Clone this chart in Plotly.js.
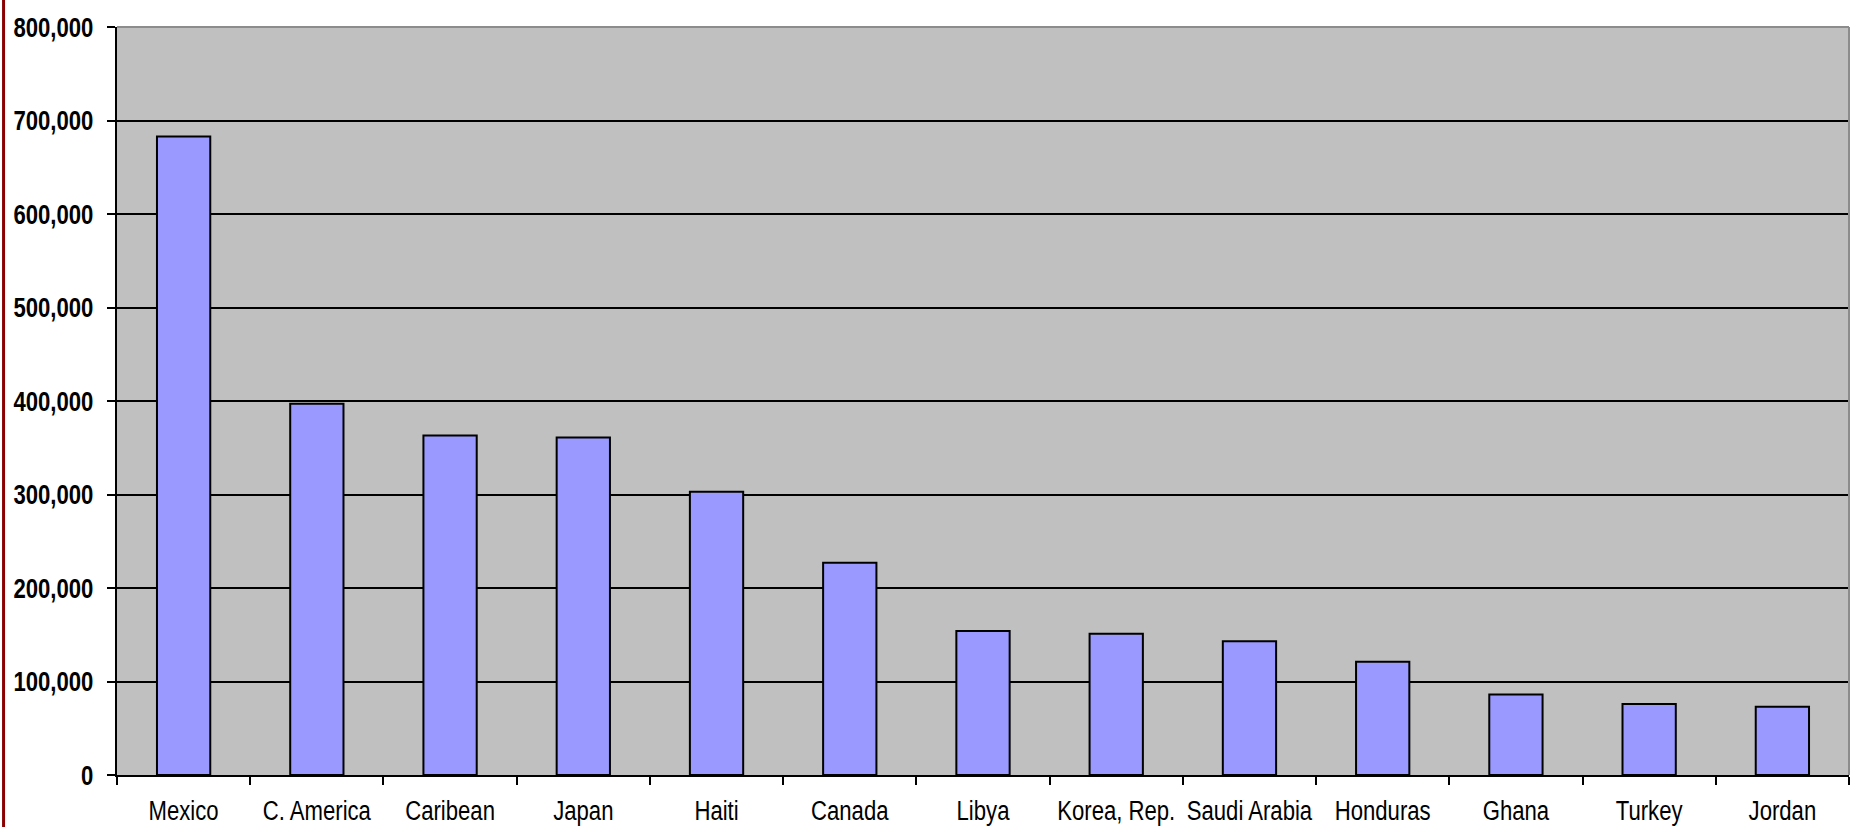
<!DOCTYPE html>
<html>
<head>
<meta charset="utf-8">
<script src="https://cdn.plot.ly/plotly-3.0.1.min.js"></script>
<style>
html,body{margin:0;padding:0;background:#fff;}
#chart{width:1862px;height:827px;}
</style>
</head>
<body>
<div id="chart"></div>
<script>
const categories = ["Mexico","C. America","Caribean","Japan","Haiti","Canada","Libya","Korea, Rep.","Saudi Arabia","Honduras","Ghana","Turkey","Jordan"];
const values = [683000, 397000, 363000, 361000, 303000, 227000, 154000, 151000, 143000, 121000, 86000, 76000, 73000];
const yTickVals = [0,100000,200000,300000,400000,500000,600000,700000,800000];
const yTickText = ["0","100,000","200,000","300,000","400,000","500,000","600,000","700,000","800,000"];

const FONT = '"Liberation Sans", Arial, sans-serif';

const trace = {
  type: 'bar',
  x: categories,
  y: values,
  marker: {color: '#9999ff', line: {color: '#000000', width: 2}},
  hoverinfo: 'x+y'
};

const layout = {
  width: 1862,
  height: 827,
  margin: {l: 117, r: 13, t: 27, b: 52},
  paper_bgcolor: '#ffffff',
  plot_bgcolor: '#c0c0c0',
  bargap: 0.6,
  showlegend: false,
  font: {family: FONT, color: '#000000', size: 28},
  xaxis: {
    type: 'category',
    showgrid: false,
    showline: true,
    linecolor: '#000000',
    linewidth: 2,
    ticks: 'outside',
    tickson: 'boundaries',
    ticklen: 8,
    tickwidth: 2,
    tickcolor: '#000000',
    tickangle: 0,
    tickfont: {family: FONT, size: 28, color: '#000000'},
    ticklabelstandoff: 9,
    fixedrange: true
  },
  yaxis: {
    range: [0, 800000],
    tickvals: yTickVals,
    ticktext: yTickText,
    showgrid: true,
    gridcolor: '#000000',
    gridwidth: 2,
    zeroline: false,
    showline: true,
    linecolor: '#000000',
    linewidth: 2,
    ticks: 'outside',
    ticklen: 8,
    tickwidth: 2,
    tickcolor: '#000000',
    tickfont: {family: FONT, size: 28, color: '#000000', weight: 'bold'},
    ticklabelstandoff: 8,
    fixedrange: true
  },
  shapes: [
    {type: 'line', xref: 'paper', yref: 'paper', x0: 0, x1: 1, y0: 1, y1: 1,
     line: {color: '#8c8c8c', width: 2}, layer: 'above'},
    {type: 'line', xref: 'paper', yref: 'paper', x0: 1, x1: 1, y0: 0, y1: 1,
     line: {color: '#8c8c8c', width: 2}, layer: 'above'},
    {type: 'line', xref: 'paper', yref: 'paper', x0: -0.0655, x1: -0.0655, y0: -0.1, y1: 1.1,
     line: {color: '#8b0000', width: 3}, layer: 'above'}
  ]
};

Plotly.newPlot('chart', [trace], layout, {displayModeBar: false, staticPlot: true}).then(function(gd){
  // emulate a narrow (condensed) face: scale each tick label horizontally about its anchor
  const S = 0.79;
  gd.querySelectorAll('.xtick text, .ytick text').forEach(function(t){
    const ax = parseFloat(t.getAttribute('x')) || 0;
    const tr = t.getAttribute('transform') || '';
    t.setAttribute('transform', tr + ' translate(' + ax + ',0) scale(' + S + ',1) translate(' + (-ax) + ',0)');
  });
});
</script>
</body>
</html>
